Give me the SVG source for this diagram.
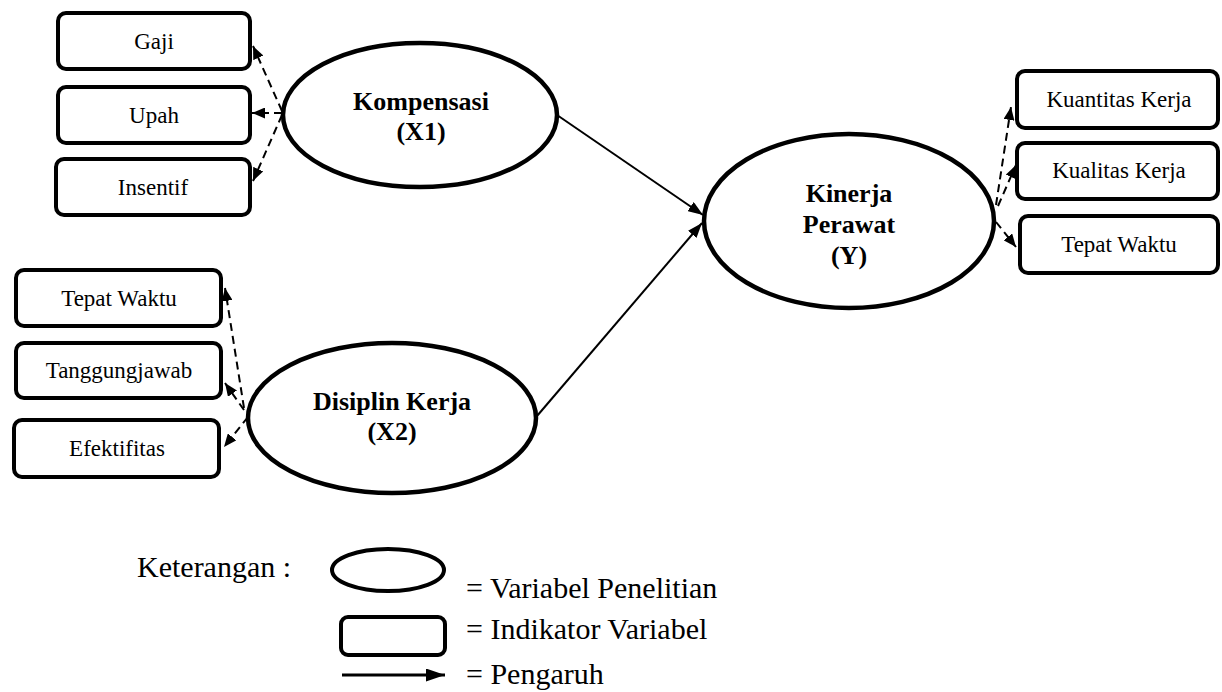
<svg xmlns="http://www.w3.org/2000/svg" width="1222" height="692" viewBox="0 0 1222 692">
<style>
.box{fill:#fff;stroke:#000;stroke-width:4}
.ell{fill:#fff;stroke:#000;stroke-width:4.5}
.t{font-size:23px;fill:#000;text-anchor:middle}
.b{font-size:26px;font-weight:bold;fill:#000;text-anchor:middle}
.lg{font-size:30px;fill:#000}
.dash{fill:none;stroke:#000;stroke-width:2;stroke-dasharray:8 5}
.solid{fill:none;stroke:#000;stroke-width:2}
</style>
<defs>
<marker id="ad" viewBox="0 0 13 11" refX="13" refY="5.5" markerWidth="13" markerHeight="11" markerUnits="userSpaceOnUse" orient="auto"><path d="M0,0 L13,5.5 L0,11 z" fill="#000"/></marker>
<marker id="as" viewBox="0 0 15 11" refX="15" refY="5.5" markerWidth="15" markerHeight="11" markerUnits="userSpaceOnUse" orient="auto"><path d="M0,0 L15,5.5 L0,11 z" fill="#000"/></marker>
<marker id="al" viewBox="0 0 19 13" refX="19" refY="6.5" markerWidth="19" markerHeight="13" markerUnits="userSpaceOnUse" orient="auto"><path d="M0,0 L19,6.5 L0,13 z" fill="#000"/></marker>
</defs>

<g id="connectors">
<line class="solid" x1="557" y1="115" x2="703" y2="215" marker-end="url(#as)"/>
<line class="solid" x1="537" y1="416" x2="702" y2="223" marker-end="url(#as)"/>
<line class="dash" x1="282" y1="111" x2="253" y2="46" marker-end="url(#ad)"/>
<line class="dash" x1="282" y1="113" x2="252" y2="113" marker-end="url(#ad)"/>
<line class="dash" x1="282" y1="115" x2="253" y2="181" marker-end="url(#ad)"/>
<line class="dash" x1="244" y1="408" x2="225" y2="288" marker-end="url(#ad)"/>
<line class="dash" x1="244" y1="410" x2="225" y2="383" marker-end="url(#ad)"/>
<line class="dash" x1="248" y1="417" x2="224" y2="447" marker-end="url(#ad)"/>
<line class="dash" x1="996" y1="205" x2="1011" y2="107" marker-end="url(#ad)"/>
<line class="dash" x1="998" y1="206" x2="1016" y2="165" marker-end="url(#ad)"/>
<line class="dash" x1="996" y1="222" x2="1016" y2="247" marker-end="url(#ad)"/>
</g>

<g font-family="Liberation Serif, Tinos, DejaVu Serif, serif">
<g id="gaji"><rect class="box" x="58" y="13" width="192" height="56" rx="8"/><text class="t" x="154" y="49">Gaji</text></g>
<g id="upah"><rect class="box" x="58" y="87" width="192" height="56" rx="8"/><text class="t" x="154" y="123">Upah</text></g>
<g id="insentif"><rect class="box" x="56" y="159" width="194" height="56" rx="8"/><text class="t" x="153" y="195">Insentif</text></g>

<g id="kompensasi"><ellipse class="ell" cx="420" cy="115" rx="137" ry="72"/><text class="b" x="421" y="110">Kompensasi</text><text class="b" x="421" y="140">(X1)</text></g>

<g id="tepat-waktu-x2"><rect class="box" x="16" y="270" width="205" height="56" rx="8"/><text class="t" x="119" y="306">Tepat Waktu</text></g>
<g id="tanggungjawab"><rect class="box" x="16" y="343" width="205" height="55" rx="8"/><text class="t" x="119" y="378">Tanggungjawab</text></g>
<g id="efektifitas"><rect class="box" x="14" y="420" width="205" height="57" rx="8"/><text class="t" x="117" y="456">Efektifitas</text></g>

<g id="disiplin"><ellipse class="ell" cx="392" cy="418" rx="144" ry="75"/><text class="b" x="392" y="410">Disiplin Kerja</text><text class="b" x="392" y="440">(X2)</text></g>

<g id="kinerja"><ellipse class="ell" cx="849" cy="221" rx="145" ry="87"/><text class="b" x="849" y="202">Kinerja</text><text class="b" x="849" y="233">Perawat</text><text class="b" x="849" y="264">(Y)</text></g>

<g id="kuantitas"><rect class="box" x="1017" y="71" width="201" height="57" rx="8"/><text class="t" x="1119" y="107">Kuantitas Kerja</text></g>
<g id="kualitas"><rect class="box" x="1017" y="143" width="201" height="56" rx="8"/><text class="t" x="1119" y="178">Kualitas Kerja</text></g>
<g id="tepat-waktu-y"><rect class="box" x="1020" y="216" width="198" height="57" rx="8"/><text class="t" x="1119" y="252">Tepat Waktu</text></g>

<g id="legend">
<text class="lg" x="137" y="577">Keterangan :</text>
<ellipse cx="388" cy="570" rx="56" ry="21" fill="#fff" stroke="#000" stroke-width="4"/>
<text class="lg" x="466" y="598">= Variabel Penelitian</text>
<rect x="341" y="617" width="104" height="38" rx="7" fill="#fff" stroke="#000" stroke-width="4"/>
<text class="lg" x="466" y="639">= Indikator Variabel</text>
<line x1="342" y1="675" x2="445" y2="675" stroke="#000" stroke-width="3" marker-end="url(#al)"/>
<text class="lg" x="466" y="684">= Pengaruh</text>
</g>
</g>
</svg>
